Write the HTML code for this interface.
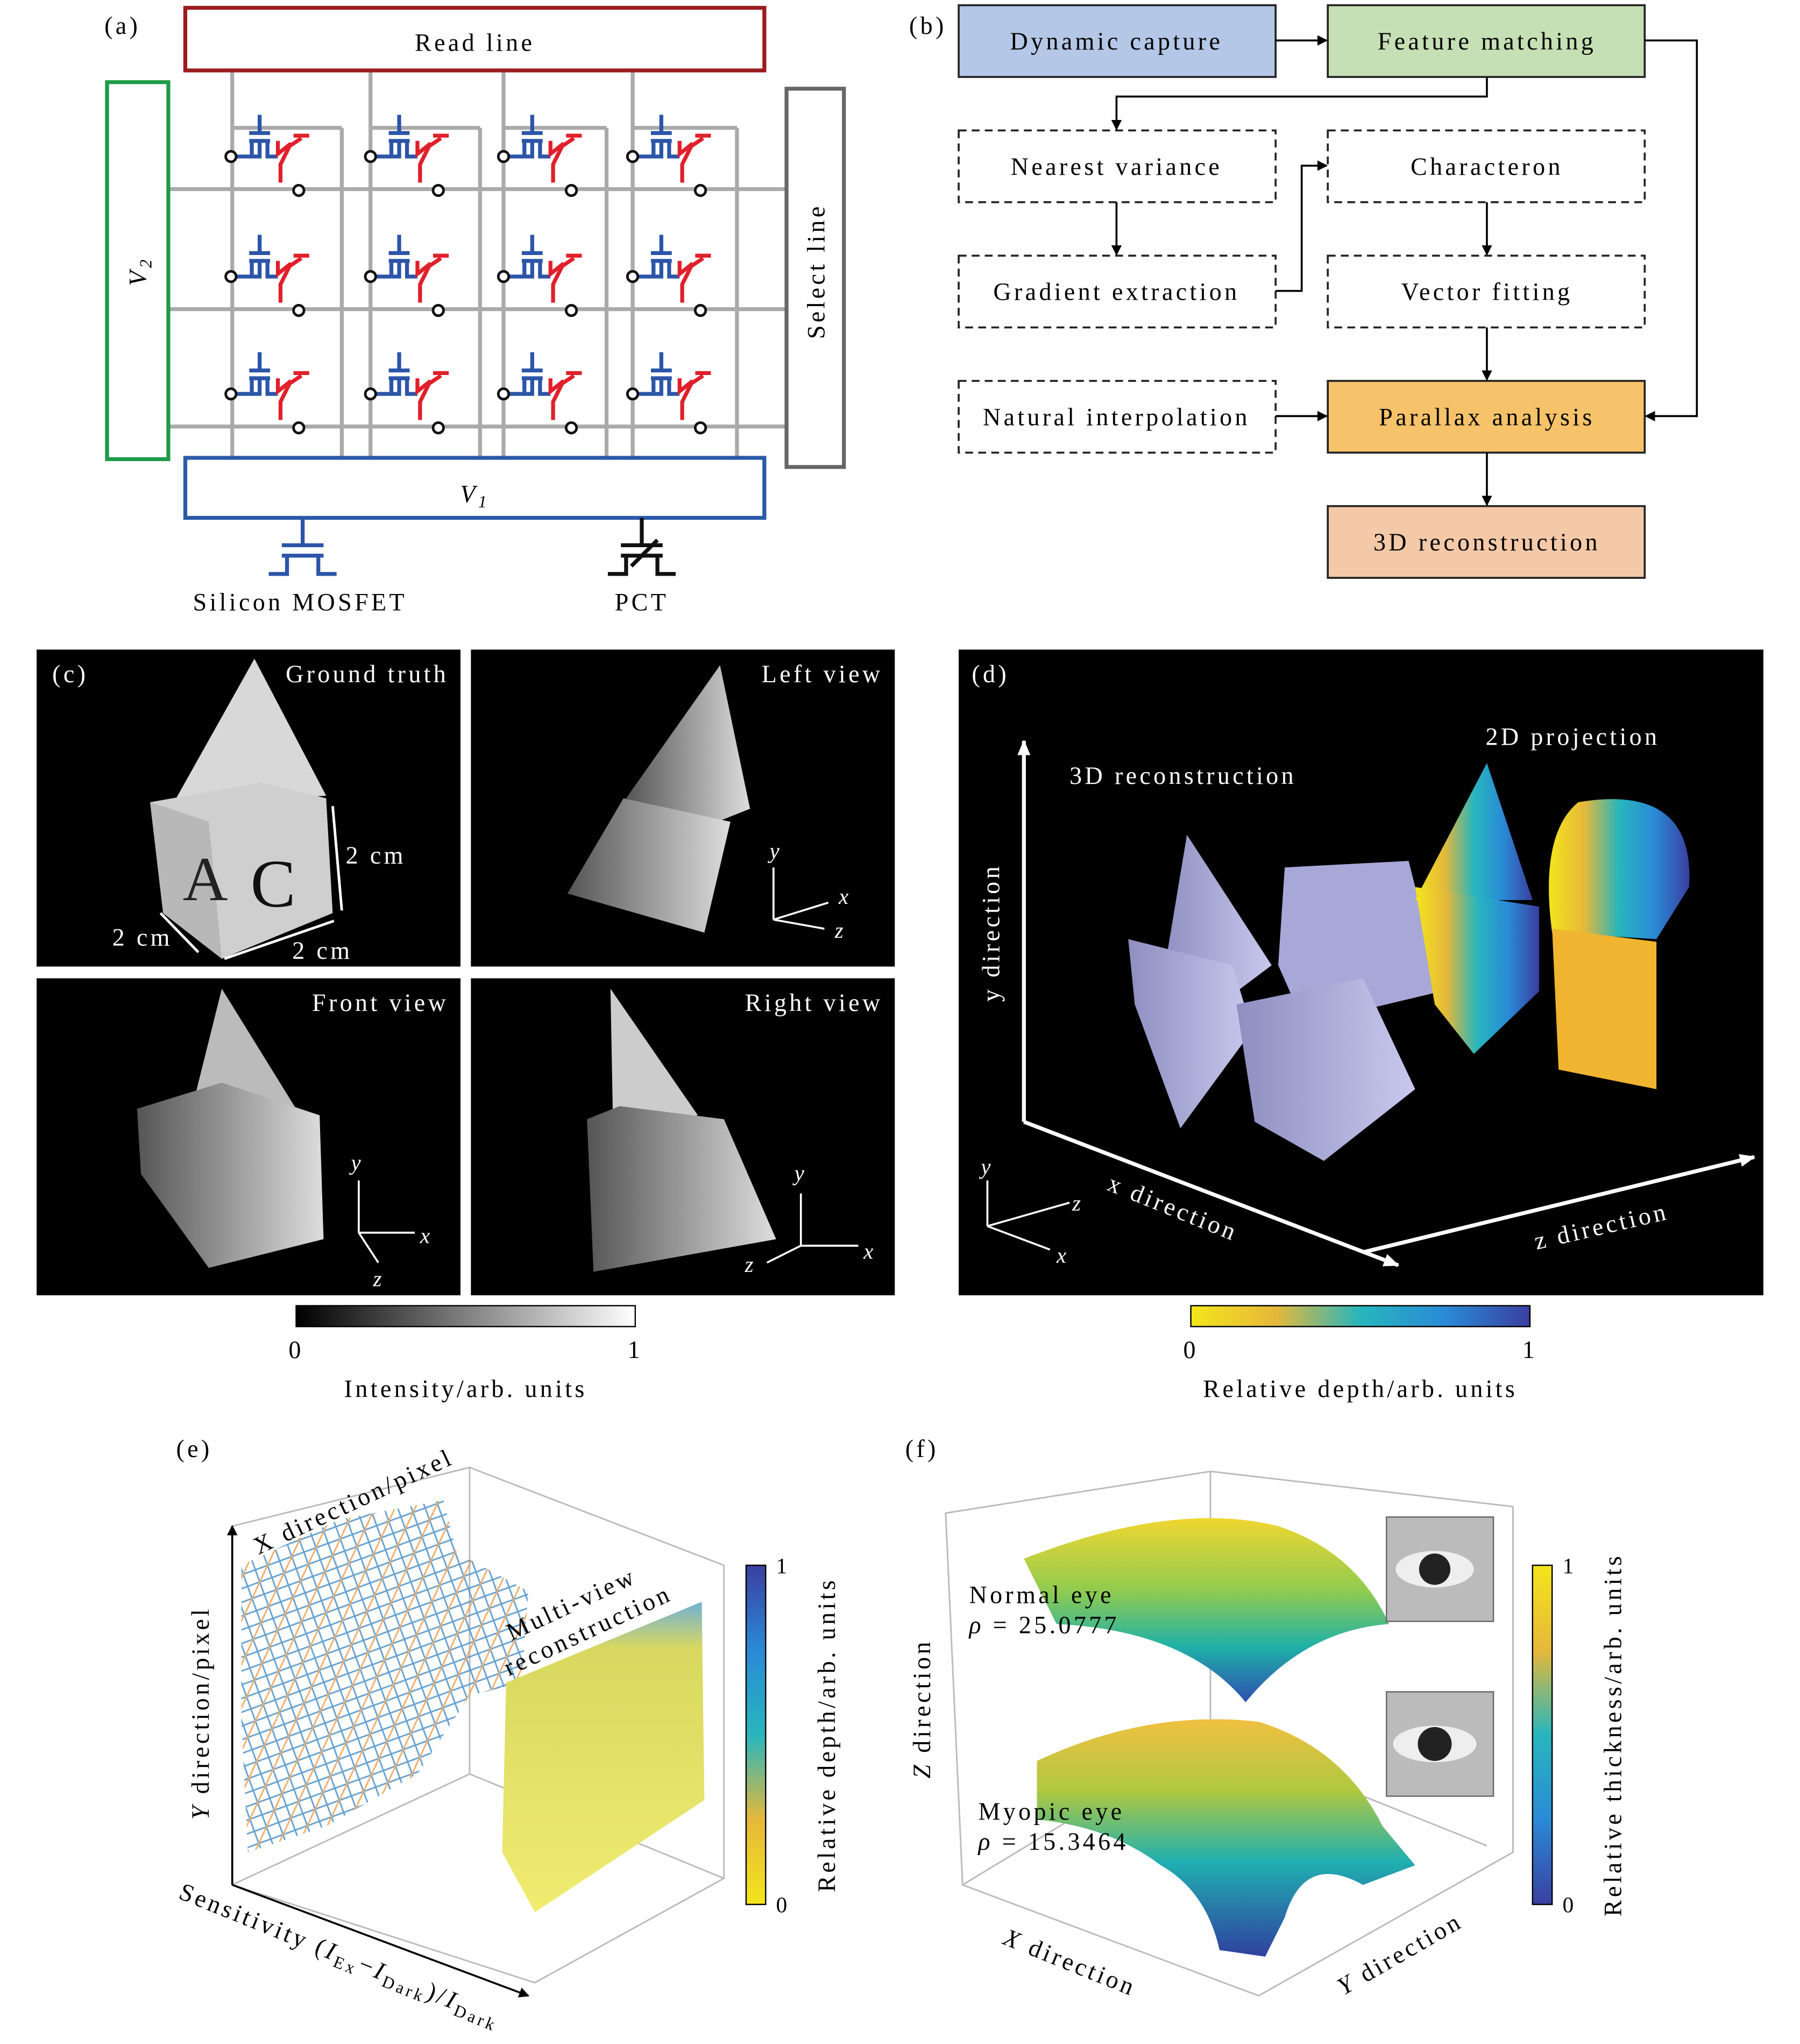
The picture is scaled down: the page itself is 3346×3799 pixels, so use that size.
<!DOCTYPE html>
<html><head><meta charset="utf-8"><style>
html,body{margin:0;padding:0;background:#fff}
svg{display:block}
text{font-family:"Liberation Serif",serif;letter-spacing:2.2px}
</style></head><body>
<svg width="3346" height="3799" viewBox="0 0 1380 1567" xmlns="http://www.w3.org/2000/svg">
<defs>
<linearGradient id="gray" x1="0" x2="1"><stop offset="0" stop-color="#000"/><stop offset="1" stop-color="#fff"/></linearGradient>
<linearGradient id="par" x1="0" x2="1"><stop offset="0" stop-color="#f3e51c"/><stop offset="0.25" stop-color="#e6b83a"/><stop offset="0.5" stop-color="#27b6bd"/><stop offset="0.75" stop-color="#2a8ad6"/><stop offset="1" stop-color="#3a3fa0"/></linearGradient>
<linearGradient id="parv" x1="0" y1="1" x2="0" y2="0"><stop offset="0" stop-color="#f3e51c"/><stop offset="0.25" stop-color="#e6b83a"/><stop offset="0.5" stop-color="#27b6bd"/><stop offset="0.75" stop-color="#2a8ad6"/><stop offset="1" stop-color="#3a3fa0"/></linearGradient>
<linearGradient id="parvr" x1="0" y1="0" x2="0" y2="1"><stop offset="0" stop-color="#f3e51c"/><stop offset="0.25" stop-color="#e6b83a"/><stop offset="0.5" stop-color="#27b6bd"/><stop offset="0.75" stop-color="#2a8ad6"/><stop offset="1" stop-color="#3a3fa0"/></linearGradient>
<linearGradient id="surf" x1="0" y1="0" x2="0" y2="1"><stop offset="0" stop-color="#f0d630"/><stop offset="0.4" stop-color="#8fcb50"/><stop offset="0.7" stop-color="#1fb0a8"/><stop offset="1" stop-color="#2f4fb0"/></linearGradient>
<linearGradient id="surf2" x1="0" y1="0" x2="0" y2="1"><stop offset="0" stop-color="#f0c040"/><stop offset="0.3" stop-color="#b0c840"/><stop offset="0.6" stop-color="#20b0b0"/><stop offset="1" stop-color="#3040a0"/></linearGradient>
<linearGradient id="slab" x1="0" y1="0" x2="0" y2="1"><stop offset="0" stop-color="#70b0d8"/><stop offset="0.15" stop-color="#d8d860"/><stop offset="1" stop-color="#f0ec70"/></linearGradient>
<linearGradient id="lav" x1="0" x2="1"><stop offset="0" stop-color="#8e8ec0"/><stop offset="1" stop-color="#c8c8ee"/></linearGradient>
<linearGradient id="g1" x1="0" x2="1"><stop offset="0" stop-color="#555"/><stop offset="1" stop-color="#ddd"/></linearGradient>
<pattern id="mesh" width="14" height="14" patternUnits="userSpaceOnUse" patternTransform="rotate(25)">
<path d="M0 0L14 14M14 0L0 14" stroke="#4a90c8" stroke-width="1.2" fill="none"/><path d="M7 0V14" stroke="#f0a050" stroke-width="1.2"/></pattern>
<marker id="ar" markerWidth="8" markerHeight="8" refX="7" refY="4" orient="auto" markerUnits="userSpaceOnUse"><path d="M0 0L8 4L0 8z" fill="#000"/></marker>
<marker id="aw" markerWidth="12" markerHeight="10" refX="11" refY="5" orient="auto" markerUnits="userSpaceOnUse"><path d="M0 0L12 5L0 10z" fill="#fff"/></marker>
<g id="cell">
<path d="M0 0H22V-12M14 -12H30M14 -18H30M22 -18V-32" stroke="#2b55a8" stroke-width="3" fill="none"/>
<path d="M16 -12V0M28 -12V0H36" stroke="#2b55a8" stroke-width="3" fill="none"/>
<circle cx="0" cy="0" r="4" fill="#fff" stroke="#111" stroke-width="2"/>
<path d="M36 -12V-2L46 -10L38 6V20" stroke="#e0202a" stroke-width="3" fill="none"/>
<path d="M48 -16H60M42 -6L54 -14" stroke="#e0202a" stroke-width="3" fill="none"/>
<circle cx="52" cy="26" r="4" fill="#fff" stroke="#111" stroke-width="2"/>
</g>
</defs>

<!-- (a) -->
<text x="80" y="26" font-size="19">(a)</text>
<g stroke="#aaa" stroke-width="3" fill="none">
<path d="M129 145H603M129 237H603M129 327H603"/>
<path d="M178 54V351M262 98V351M284 54V351M368 98V351M386 54V351M465 98V351M485 54V351M565 98V351"/>
<path d="M178 98H262M284 98H368M386 98H465M485 98H565"/>
</g>
<g>
<use href="#cell" x="177" y="120"/><use href="#cell" x="284" y="120"/><use href="#cell" x="386" y="120"/><use href="#cell" x="485" y="120"/>
<use href="#cell" x="177" y="212"/><use href="#cell" x="284" y="212"/><use href="#cell" x="386" y="212"/><use href="#cell" x="485" y="212"/>
<use href="#cell" x="177" y="302"/><use href="#cell" x="284" y="302"/><use href="#cell" x="386" y="302"/><use href="#cell" x="485" y="302"/>
</g>
<rect x="142" y="6" width="444" height="48" fill="#fff" stroke="#9b1c20" stroke-width="3"/>
<text x="364" y="39" font-size="19" text-anchor="middle">Read line</text>
<rect x="82" y="63" width="47" height="289" fill="#fff" stroke="#1e9a4a" stroke-width="3"/>
<text transform="translate(112 208) rotate(-90)" font-size="19" text-anchor="middle" font-style="italic">V<tspan font-size="13" dy="4">2</tspan></text>
<rect x="603" y="68" width="44" height="290" fill="#fff" stroke="#666" stroke-width="3"/>
<text transform="translate(632 208) rotate(-90)" font-size="19" text-anchor="middle">Select line</text>
<rect x="142" y="351" width="444" height="46" fill="#fff" stroke="#2a5aa8" stroke-width="3"/>
<text x="364" y="385" font-size="19" text-anchor="middle" font-style="italic">V<tspan font-size="13" dy="4">1</tspan></text>
<path d="M232 397V418M216 418H248M216 426H248M220 426V440H206M244 426V440H258" stroke="#2b55a8" stroke-width="3" fill="none"/>
<path d="M492 397V418M476 418H508M476 426H508M480 426V440H466M504 426V440H518M484 434L504 414" stroke="#111" stroke-width="3" fill="none"/>
<text x="230" y="468" font-size="19" text-anchor="middle">Silicon MOSFET</text>
<text x="492" y="468" font-size="19" text-anchor="middle">PCT</text>

<!-- (b) -->
<text x="697" y="26" font-size="19">(b)</text>
<g font-size="19" text-anchor="middle" stroke-width="1.5">
<rect x="735" y="4" width="243" height="55" fill="#b4c7e7" stroke="#222"/><text x="856" y="38">Dynamic capture</text>
<rect x="1018" y="4" width="243" height="55" fill="#c5e0b4" stroke="#222"/><text x="1140" y="38">Feature matching</text>
<g fill="#fff" stroke="#222" stroke-dasharray="6 4">
<rect x="735" y="100" width="243" height="55"/><rect x="1018" y="100" width="243" height="55"/>
<rect x="735" y="196" width="243" height="55"/><rect x="1018" y="196" width="243" height="55"/>
<rect x="735" y="292" width="243" height="55"/></g>
<text x="856" y="134">Nearest variance</text><text x="1140" y="134">Characteron</text>
<text x="856" y="230">Gradient extraction</text><text x="1140" y="230">Vector fitting</text>
<text x="856" y="326">Natural interpolation</text>
<rect x="1018" y="292" width="243" height="55" fill="#f6c36b" stroke="#222"/><text x="1140" y="326">Parallax analysis</text>
<rect x="1018" y="388" width="243" height="55" fill="#f4c9a8" stroke="#222"/><text x="1140" y="422">3D reconstruction</text>
</g>
<g stroke="#000" stroke-width="1.5" fill="none" marker-end="url(#ar)">
<path d="M978 31H1017"/>
<path d="M1140 59V74H856V99"/>
<path d="M856 155V195"/>
<path d="M978 223H998V127H1017"/>
<path d="M1140 155V195"/>
<path d="M1140 251V291"/>
<path d="M978 319H1017"/>
<path d="M1261 31H1301V319H1262"/>
<path d="M1140 347V387"/>
</g>

<!-- (c) -->
<rect x="28" y="498" width="325" height="243" fill="#000"/>
<rect x="361" y="498" width="325" height="243" fill="#000"/>
<rect x="28" y="750" width="325" height="243" fill="#000"/>
<rect x="361" y="750" width="325" height="243" fill="#000"/>
<polygon points="195,505 250,610 175,615 135,612" fill="#d8d8d8"/>
<polygon points="115,615 200,600 250,612 255,700 170,735 125,700" fill="#cfcfcf"/>
<polygon points="115,615 160,630 170,735 125,700" fill="#b8b8b8"/>
<text x="140" y="690" font-size="48" fill="#222" font-family="Liberation Sans,sans-serif">A</text>
<text x="192" y="695" font-size="52" fill="#111" font-family="Liberation Sans,sans-serif">C</text>
<g stroke="#fff" stroke-width="2"><path d="M255 618L262 698M123 700L152 730M172 735L256 706"/></g>
<g fill="#fff" font-size="19"><text x="344" y="523" text-anchor="end">Ground truth</text><text x="265" y="662">2 cm</text><text x="86" y="725">2 cm</text><text x="224" y="735">2 cm</text>
<text x="677" y="523" text-anchor="end">Left view</text><text x="344" y="775" text-anchor="end">Front view</text><text x="677" y="775" text-anchor="end">Right view</text></g>
<polygon points="552,510 575,620 525,640 480,612" fill="url(#g1)"/>
<polygon points="478,612 560,630 540,715 435,685" fill="url(#g1)"/>
<polygon points="170,758 230,855 145,858" fill="#bbb"/>
<polygon points="105,850 170,830 245,855 248,950 160,972 108,900" fill="url(#g1)"/>
<polygon points="468,758 535,855 470,865" fill="#ccc"/>
<polygon points="450,858 475,848 555,858 595,950 455,975" fill="url(#g1)"/>
<g stroke="#fff" stroke-width="1.5" fill="none" font-size="17">
<path d="M593 705V665M593 705L635 692M593 705L632 712M275 945V905M275 945H318M275 945L290 968M614 955V915M614 955H658M614 955L588 968"/></g>
<g fill="#fff" font-size="17" font-style="italic"><text x="590" y="658">y</text><text x="643" y="693">x</text><text x="640" y="719">z</text>
<text x="269" y="897">y</text><text x="322" y="953">x</text><text x="286" y="986">z</text><text x="609" y="905">y</text><text x="662" y="965">x</text><text x="571" y="975">z</text></g>
<text x="40" y="523" font-size="19" fill="#fff">(c)</text>
<rect x="227" y="1001" width="260" height="16" fill="url(#gray)" stroke="#000"/>
<text x="227" y="1041" font-size="19" text-anchor="middle">0</text><text x="487" y="1041" font-size="19" text-anchor="middle">1</text>
<text x="357" y="1071" font-size="19" text-anchor="middle">Intensity/arb. units</text>

<!-- (d) -->
<rect x="735" y="498" width="617" height="495" fill="#000"/>
<text x="745" y="523" font-size="19" fill="#fff">(d)</text>
<text x="820" y="601" font-size="19" fill="#fff">3D reconstruction</text>
<text x="1139" y="571" font-size="19" fill="#fff">2D projection</text>
<g stroke="#fff" stroke-width="3" fill="none" marker-end="url(#aw)">
<path d="M785 860V568"/><path d="M785 860L1072 970"/><path d="M1045 960L1345 887"/></g>
<text transform="translate(766 715) rotate(-90)" font-size="19" fill="#fff" text-anchor="middle">y direction</text>
<text transform="translate(848 912) rotate(22)" font-size="19" fill="#fff">x direction</text>
<text transform="translate(1178 958) rotate(-13)" font-size="19" fill="#fff">z direction</text>
<g stroke="#fff" stroke-width="1.5" fill="none"><path d="M757 940V905M757 940L820 922M757 940L805 958"/></g>
<g fill="#fff" font-size="17" font-style="italic"><text x="752" y="900">y</text><text x="822" y="928">z</text><text x="810" y="968">x</text></g>
<polygon points="910,640 975,740 935,770 890,760" fill="url(#lav)"/>
<polygon points="865,720 945,740 960,790 905,865 870,770" fill="url(#lav)"/>
<polygon points="985,665 1080,660 1105,760 1000,785 980,740" fill="#a8a8d8"/>
<polygon points="948,770 1045,750 1085,835 1015,890 962,860" fill="url(#lav)"/>
<polygon points="1140,585 1175,690 1085,690" fill="url(#par)"/>
<polygon points="1085,680 1180,695 1180,760 1130,808 1100,770" fill="url(#par)"/>
<path d="M1210 615Q1300 600 1295 680L1270 720L1190 715Q1180 640 1210 615z" fill="url(#par)"/>
<polygon points="1190,712 1270,722 1270,835 1195,820" fill="#f0b430"/>

<rect x="913" y="1001" width="260" height="16" fill="url(#par)" stroke="#000"/>
<text x="913" y="1041" font-size="19" text-anchor="middle">0</text><text x="1173" y="1041" font-size="19" text-anchor="middle">1</text>
<text x="1043" y="1071" font-size="19" text-anchor="middle">Relative depth/arb. units</text>

<!-- (e) -->
<text x="135" y="1117" font-size="19">(e)</text>
<g stroke="#bbb" stroke-width="1.2" fill="none">
<path d="M178 1170L360 1125L555 1200V1440L410 1520L178 1445Z"/><path d="M360 1125V1360L555 1440M360 1360L178 1445"/></g>
<path d="M178 1445V1170" stroke="#000" stroke-width="1.5" marker-end="url(#ar)"/>
<path d="M178 1445L405 1530" stroke="#000" stroke-width="1.5" marker-end="url(#ar)"/>
<polygon points="185,1200 260,1165 340,1150 350,1190 405,1220 400,1290 360,1300 320,1360 250,1400 190,1420 185,1320" fill="url(#mesh)" opacity="0.85"/>
<polygon points="388,1290 538,1228 540,1380 410,1466 385,1420" fill="url(#slab)"/>
<text transform="translate(198 1192) rotate(-25)" font-size="19">X direction/pixel</text>
<text transform="translate(160 1395) rotate(-90)" font-size="19"><tspan font-style="italic">Y</tspan> direction/pixel</text>
<text transform="translate(392 1258) rotate(-25)" font-size="19">Multi-view</text>
<text transform="translate(390 1285) rotate(-25)" font-size="19">reconstruction</text>
<text transform="translate(136 1455) rotate(22)" font-size="19">Sensitivity (<tspan font-style="italic">I</tspan><tspan font-size="13" dy="4">Ex</tspan><tspan dy="-4">−</tspan><tspan font-style="italic">I</tspan><tspan font-size="13" dy="4">Dark</tspan><tspan dy="-4">)/</tspan><tspan font-style="italic">I</tspan><tspan font-size="13" dy="4">Dark</tspan></text>
<rect x="572" y="1200" width="15" height="260" fill="url(#parv)" stroke="#000"/>
<text x="595" y="1206" font-size="17">1</text><text x="595" y="1466" font-size="17">0</text>
<text transform="translate(640 1330) rotate(-90)" font-size="19" text-anchor="middle">Relative depth/arb. units</text>

<!-- (f) -->
<text x="694" y="1117" font-size="19">(f)</text>
<g stroke="#bbb" stroke-width="1.2" fill="none">
<path d="M725 1160L928 1128L1160 1155V1420L965 1530L738 1445Z"/><path d="M928 1128V1330L1140 1415M928 1330L738 1445"/></g>
<path d="M785 1195Q900 1150 980 1170Q1040 1190 1065 1245Q1000 1250 955 1305Q910 1250 810 1245Z" fill="url(#surf)"/>
<path d="M795 1350Q880 1310 965 1320Q1030 1340 1060 1400L1085 1430L1045 1445Q1000 1420 985 1470L970 1500L935 1495Q925 1450 890 1430Q850 1400 795 1395Z" fill="url(#surf2)"/>
<rect x="1063" y="1163" width="82" height="80" fill="#bbb" stroke="#666"/>
<ellipse cx="1100" cy="1203" rx="30" ry="14" fill="#eee"/><circle cx="1100" cy="1203" r="12" fill="#222"/>
<rect x="1063" y="1297" width="82" height="80" fill="#bbb" stroke="#666"/>
<ellipse cx="1100" cy="1337" rx="32" ry="14" fill="#eee"/><circle cx="1100" cy="1337" r="13" fill="#222"/>
<text x="743" y="1229" font-size="19">Normal eye</text>
<text x="743" y="1252" font-size="19"><tspan font-style="italic">ρ</tspan> = 25.0777</text>
<text x="750" y="1395" font-size="19">Myopic eye</text>
<text x="750" y="1418" font-size="19"><tspan font-style="italic">ρ</tspan> = 15.3464</text>
<text transform="translate(713 1310) rotate(-90)" font-size="19" text-anchor="middle"><tspan font-style="italic">Z</tspan> direction</text>
<text transform="translate(768 1490) rotate(22)" font-size="19"><tspan font-style="italic">X</tspan> direction</text>
<text transform="translate(1030 1530) rotate(-30)" font-size="19"><tspan font-style="italic">Y</tspan> direction</text>
<rect x="1175" y="1200" width="15" height="260" fill="url(#parvr)" stroke="#000"/>
<text x="1198" y="1206" font-size="17">1</text><text x="1198" y="1466" font-size="17">0</text>
<text transform="translate(1243 1330) rotate(-90)" font-size="19" text-anchor="middle">Relative thickness/arb. units</text>
</svg>
</body></html>
